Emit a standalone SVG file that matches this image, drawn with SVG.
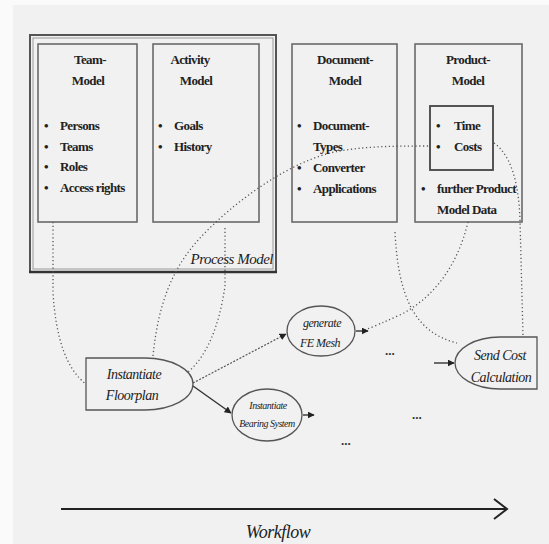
<svg xmlns="http://www.w3.org/2000/svg" width="549" height="544" viewBox="0 0 549 544">
<defs>
<style>
.bg{fill:#f1f1f1}
.box{fill:none;stroke:#6a6a6a;stroke-width:1.6}
.t{font-family:'Liberation Serif','Times New Roman',serif;font-size:13px;fill:#222;font-weight:bold;letter-spacing:-0.6px}
.c{text-anchor:middle}
.i{font-family:'Liberation Serif','Times New Roman',serif;font-style:italic;fill:#222;text-anchor:middle;letter-spacing:-0.5px}
.dot{fill:none;stroke:#555;stroke-width:1.3;stroke-dasharray:1.2 2.6}
.node{fill:#f1f1f1;stroke:#555;stroke-width:1.3}
</style>
<marker id="ah" viewBox="0 0 10 10" refX="9" refY="5" markerWidth="7" markerHeight="7" orient="auto" markerUnits="userSpaceOnUse"><path d="M0,0 L10,5 L0,10 z" fill="#222"/></marker>
</defs>
<rect x="0" y="0" width="549" height="544" fill="#fafafa"/>
<rect class="bg" x="13" y="5" width="536" height="539"/>

<g id="process-model">
<rect x="30" y="35" width="246" height="237" fill="none" stroke="#555" stroke-width="2"/>
<rect x="33" y="38" width="240" height="231" fill="none" stroke="#999" stroke-width="1"/>
<line x1="29" y1="272" x2="277" y2="272" stroke="#333" stroke-width="2.5"/>
<text class="i" x="273" y="264" style="text-anchor:end;font-size:15px">Process Model</text>
</g>

<g id="team-model">
<rect class="box" x="38" y="44" width="99" height="178"/>
<text class="t c" x="90" y="64">Team-</text>
<text class="t c" x="88" y="85">Model</text>
<g class="t"><text x="44" y="130">•</text><text x="60" y="130">Persons</text>
<text x="44" y="151">•</text><text x="60" y="151">Teams</text>
<text x="44" y="171">•</text><text x="60" y="171">Roles</text>
<text x="44" y="192">•</text><text x="60" y="192">Access rights</text></g>
</g>

<g id="activity-model">
<rect class="box" x="153" y="44" width="106" height="178"/>
<text class="t c" x="190" y="64">Activity</text>
<text class="t c" x="196" y="85">Model</text>
<g class="t"><text x="158" y="130">•</text><text x="174" y="130">Goals</text>
<text x="158" y="151">•</text><text x="174" y="151">History</text></g>
</g>

<g id="document-model">
<rect class="box" x="292" y="44" width="105" height="178"/>
<text class="t c" x="345" y="64">Document-</text>
<text class="t c" x="345" y="85">Model</text>
<g class="t"><text x="297" y="130">•</text><text x="313" y="130">Document-</text>
<text x="313" y="151">Types</text>
<text x="297" y="172">•</text><text x="313" y="172">Converter</text>
<text x="297" y="193">•</text><text x="313" y="193">Applications</text></g>
</g>

<g id="product-model">
<rect class="box" x="415" y="44" width="107" height="178"/>
<text class="t c" x="468" y="64">Product-</text>
<text class="t c" x="468" y="85">Model</text>
<rect x="430" y="106" width="63" height="64" fill="none" stroke="#444" stroke-width="1.8"/>
<g class="t"><text x="436" y="130">•</text><text x="454" y="130">Time</text>
<text x="436" y="151">•</text><text x="454" y="151">Costs</text>
<text x="421" y="193">•</text><text x="437" y="193">further Product</text>
<text x="437" y="214">Model Data</text></g>
</g>

<g id="connectors">
<path class="dot" d="M53,222 L53,292 Q57,362 86,384"/>
<path class="dot" d="M225,228 L225,286 Q216,348 188,372"/>
<path class="dot" d="M153,356 C158,305 172,268 200,238 C232,204 282,166 330,153 C360,146 395,146 430,146"/>
<path class="dot" d="M494,143 Q518,160 520,220 L523,336"/>
<path class="dot" d="M395,232 C398,292 412,332 457,343"/>
<path class="dot" d="M468,222 C457,268 432,298 402,314 Q378,325 362,331"/>
<path d="M193,383 L286,334" fill="none" stroke="#555" stroke-width="1.2" stroke-dasharray="2 1.5" marker-end="url(#ah)"/>
<path d="M193,386 L231,413" fill="none" stroke="#333" stroke-width="1.4" marker-end="url(#ah)"/>
<path d="M356,331 L368,331" fill="none" stroke="#333" stroke-width="1.4" marker-end="url(#ah)"/>
<path d="M303,415 L314,415" fill="none" stroke="#333" stroke-width="1.4" marker-end="url(#ah)"/>
<path d="M434,363 L454,363" fill="none" stroke="#333" stroke-width="1.4" marker-end="url(#ah)"/>
</g>

<g id="instantiate-floorplan">
<path class="node" d="M86,358 L145,358 A48,26 0 0 1 145,410 L86,410 Z"/>
<text class="i" x="134" y="379" style="font-size:14px">Instantiate</text>
<text class="i" x="132" y="400" style="font-size:14px">Floorplan</text>
</g>

<g id="generate-fe-mesh">
<ellipse class="node" cx="321" cy="331" rx="34" ry="25"/>
<text class="i" x="322" y="327" style="font-size:12px">generate</text>
<text class="i" x="320" y="347" style="font-size:12px">FE Mesh</text>
</g>

<g id="instantiate-bearing-system">
<ellipse class="node" cx="267" cy="415" rx="35" ry="26"/>
<text class="i" x="268" y="409" style="font-size:10px">Instantiate</text>
<text class="i" x="267" y="427" style="font-size:10px">Bearing System</text>
</g>

<g id="send-cost-calculation">
<path class="node" d="M537,337 L500,337 A45,26 0 0 0 500,389 L537,389 Z"/>
<text class="i" x="500" y="360" style="font-size:14px">Send Cost</text>
<text class="i" x="501" y="382" style="font-size:14px">Calculation</text>
</g>

<g id="ellipses" fill="#333" font-family="'Liberation Serif',serif" font-size="13" font-weight="bold">
<text x="385" y="355">...</text>
<text x="412" y="419">...</text>
<text x="341" y="445">...</text>
</g>

<g id="workflow">
<line x1="61" y1="509" x2="506" y2="509" stroke="#222" stroke-width="2"/>
<path d="M494,499 L507,509 L494,519" fill="none" stroke="#222" stroke-width="2"/>
<text class="i" x="278" y="538" style="font-size:18px">Workflow</text>
</g>
</svg>
